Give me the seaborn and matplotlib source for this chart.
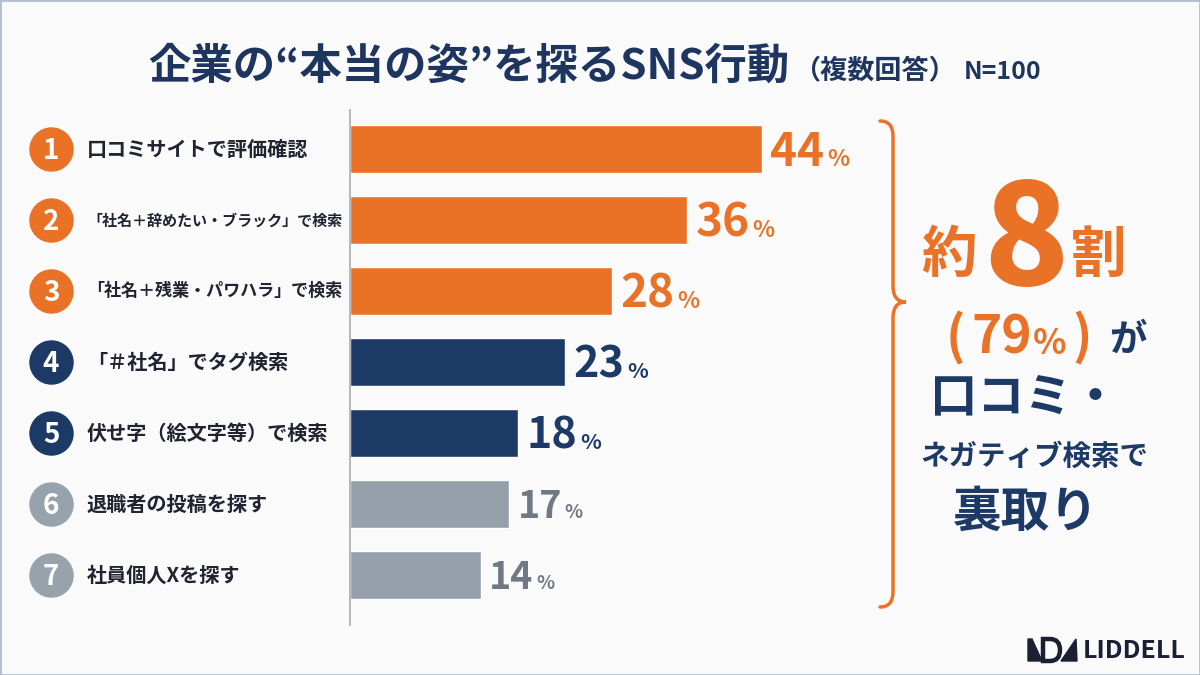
import numpy as np
import pandas as pd
import matplotlib
matplotlib.use('Agg')
import matplotlib.pyplot as plt
import matplotlib.transforms as mtrans
from matplotlib.path import Path
from matplotlib.patches import PathPatch, Polygon, Rectangle
import seaborn as sns

# データ
ranks = [1, 2, 3, 4, 5, 6, 7]
labels = ['口コミサイトで評価確認',
          '「社名＋辞めたい・ブラック」で検索',
          '「社名＋残業・パワハラ」で検索',
          '「＃社名」でタグ検索',
          '伏せ字（絵文字等）で検索',
          '退職者の投稿を探す',
          '社員個人Xを探す']
values = [44, 36, 28, 23, 18, 17, 14]
groups = ['top', 'top', 'top', 'mid', 'mid', 'low', 'low']

title_main = '企業の“本当の姿”を探るSNS行動'
title_sub = '（複数回答）'
title_n = 'N=100'
total_share = 79

ORANGE = '#EA7226'
NAVY = '#1D3966'
GRAY = '#96A0AB'
bar_col = {'top': ORANGE, 'mid': NAVY, 'low': GRAY}
txt_col = {'top': ORANGE, 'mid': NAVY, 'low': '#6F7883'}
val_size = {'top': 33, 'mid': 31, 'low': 27}
circ_col = {'top': ORANGE, 'mid': NAVY, 'low': '#98A2AD'}
LABEL_COL = '#1F2430'
TITLE_COL = '#1E3560'
BG = '#FAFAFB'

sns.set_theme(style='white')
plt.rcParams['font.family'] = ['Noto Sans CJK JP', 'DejaVu Sans']
plt.rcParams['font.weight'] = 'bold'

W, H = 1200, 675
fig = plt.figure(figsize=(12, 6.75), dpi=100, facecolor=BG)
renderer = fig.canvas.get_renderer()

df = pd.DataFrame({'label': labels, 'value': values, 'group': groups})

# 棒グラフ本体
ax = fig.add_axes([350 / W, 50 / H, 468 / W, 515 / H])
ax.set_facecolor('none')
sns.barplot(data=df, x='value', y='label', hue='group', palette=bar_col,
            dodge=False, legend=False, width=0.68, saturation=1, ax=ax)
ax.set_xlim(0, 50)
ax.set_ylim(6.7, -0.55)
ax.set_xlabel('')
ax.set_ylabel('')
ax.set_xticks([])
ax.set_yticks([])
for s in ['top', 'right', 'bottom']:
    ax.spines[s].set_visible(False)
ax.spines['left'].set_color('#A6ACB4')
ax.spines['left'].set_linewidth(1.2)

trans = mtrans.blended_transform_factory(fig.transFigure, ax.transData)

for i, (r, lab, v, g) in enumerate(zip(ranks, labels, values, groups)):
    # 番号の丸
    ax.plot([51 / W], [i], 'o', ms=31, color=circ_col[g], transform=trans,
            clip_on=False)
    ax.annotate(str(r), xy=(51 / W, i), xycoords=trans, xytext=(0, -7.3),
                textcoords='offset points', ha='center', va='baseline',
                color='white', fontsize=20, fontweight='bold',
                annotation_clip=False)
    # 項目ラベル（幅に合わせて縮小）
    t = ax.text(87 / W, i, lab, transform=trans, ha='left', va='center',
                color=LABEL_COL, fontsize=14.5, fontweight='bold')
    w = t.get_window_extent(renderer).width
    if w > 256:
        t.set_fontsize(14.5 * 256 / w)
    # 数値ラベル
    fs = val_size[g]
    yoff = -0.36 * fs
    num = ax.annotate(str(v), xy=(v, i), xytext=(6, yoff),
                      textcoords='offset points', ha='left', va='baseline',
                      color=txt_col[g], fontsize=fs, fontweight='bold',
                      annotation_clip=False)
    nw = num.get_window_extent(renderer).width * 72 / 100
    ax.annotate('%', xy=(v, i), xytext=(6 + nw + 2, yoff),
                textcoords='offset points', ha='left', va='baseline',
                color=txt_col[g], fontsize=fs * 0.5, fontweight='bold',
                annotation_clip=False)

# 上に重ねる装飾用の軸（ピクセル座標）
ov = fig.add_axes([0, 0, 1, 1], facecolor='none')
ov.set_xlim(0, W)
ov.set_ylim(H, 0)
ov.axis('off')


def chain(x, y, pieces):
    # 文字列を左から順に並べる（ベースライン揃え）
    for s, fs, col, gap in pieces:
        t = ov.text(x, y, s, ha='left', va='baseline', fontsize=fs,
                    color=col, fontweight='bold')
        x += t.get_window_extent(renderer).width + gap
    return x


# タイトル
chain(148, 79, [(title_main, 30.5, TITLE_COL, 4),
                (title_sub, 19.5, TITLE_COL, 8),
                (title_n, 18, TITLE_COL, 0)])

# 中括弧
verts = [(880, 121), (893, 121), (893, 136),
         (893, 286),
         (893, 302), (906, 302),
         (893, 302), (893, 318),
         (893, 592),
         (893, 607), (880, 607)]
codes = [Path.MOVETO, Path.CURVE3, Path.CURVE3,
         Path.LINETO,
         Path.CURVE3, Path.CURVE3,
         Path.CURVE3, Path.CURVE3,
         Path.LINETO,
         Path.CURVE3, Path.CURVE3]
ov.add_patch(PathPatch(Path(verts, codes), fill=False, edgecolor=ORANGE,
                       lw=2.5, capstyle='round'))

# 右側のまとめ
ov.text(977, 272, '約', ha='right', va='baseline', fontsize=40,
        color=ORANGE, fontweight='bold')
ov.text(1026, 285, '8', ha='center', va='baseline', fontsize=101,
        color=ORANGE, fontweight='heavy')
ov.text(1071, 272, '割', ha='left', va='baseline', fontsize=40,
        color=ORANGE, fontweight='bold')
chain(946, 354, [('(', 37, ORANGE, 6),
                 (str(total_share), 37, ORANGE, 1),
                 ('%', 25, ORANGE, 6),
                 (')', 37, ORANGE, 0)])
ov.text(1109, 351, 'が', ha='left', va='baseline', fontsize=27,
        color=NAVY, fontweight='bold')
ov.text(1025, 398, '口コミ・', ha='center', va='center', fontsize=34,
        color=NAVY, fontweight='bold')
ov.text(1034, 457, 'ネガティブ検索で', ha='center', va='center', fontsize=20.5,
        color=NAVY, fontweight='bold')
ov.text(1025, 512, '裏取り', ha='center', va='center', fontsize=35,
        color=NAVY, fontweight='bold')

# ロゴ
LOGO = '#1A1F33'
ov.add_patch(Polygon([(1028, 639), (1032, 639), (1042, 661), (1028, 661)],
                     closed=True, color=LOGO))
d_path = Path([(1043, 639), (1050, 639), (1060, 639), (1060, 650),
               (1060, 661), (1050, 661), (1043, 661), (1043, 639)],
              [Path.MOVETO, Path.LINETO, Path.CURVE3, Path.CURVE3,
               Path.CURVE3, Path.CURVE3, Path.LINETO, Path.CLOSEPOLY])
ov.add_patch(PathPatch(d_path, fill=False, edgecolor=LOGO, lw=3.2))
ov.add_patch(Polygon([(1061, 661), (1076, 639), (1077, 661)],
                     closed=True, color=LOGO))
ov.text(1083, 651, 'LIDDELL', ha='left', va='center', fontsize=18,
        color=LOGO, fontweight='bold')

# 枠線
fig.patches.append(Rectangle((0, 0), 1, 1, transform=fig.transFigure,
                             fill=False, edgecolor='#B3BECC', lw=2))

fig.savefig('out.png', dpi=100, facecolor=BG)
